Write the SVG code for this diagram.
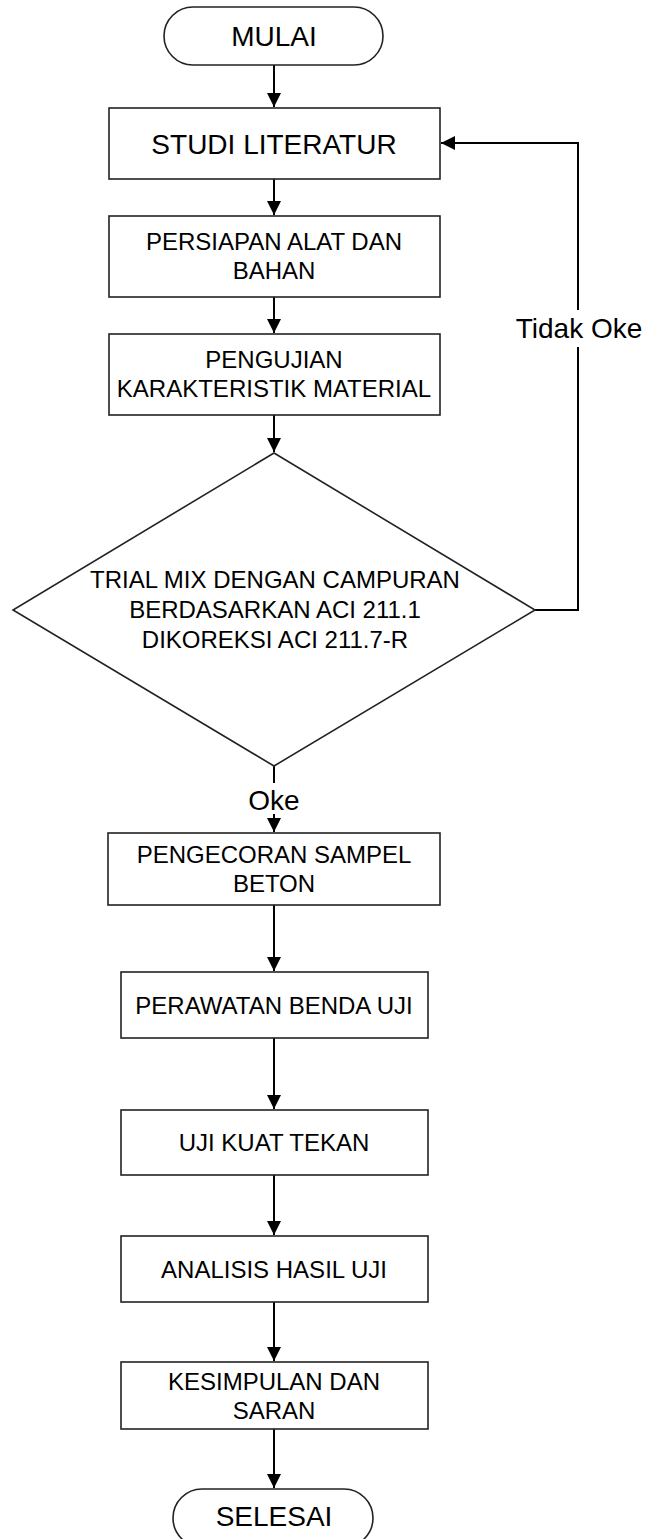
<svg xmlns="http://www.w3.org/2000/svg" width="647" height="1539" viewBox="0 0 647 1539">
<style>
.shape{fill:#fff;stroke:#222;stroke-width:1.6}
.t{font-family:"Liberation Sans",Arial,sans-serif;fill:#000;text-anchor:middle}
.big{font-size:28px}
.mid{font-size:24px}
.lbl{font-size:28px}
.conn{fill:none;stroke:#000;stroke-width:2}
</style>
<defs>
<marker id="arrow" markerUnits="userSpaceOnUse" markerWidth="15" markerHeight="14" refX="14" refY="7" orient="auto">
<path d="M0,0 L14,7 L0,14 Z" fill="#000"/>
</marker>
</defs>
<rect width="647" height="1539" fill="#fff"/>
<g id="connectors">
<path class="conn" d="M274,65 V107" marker-end="url(#arrow)"/>
<path class="conn" d="M274,179 V215" marker-end="url(#arrow)"/>
<path class="conn" d="M274,297 V333" marker-end="url(#arrow)"/>
<path class="conn" d="M274,415 V452" marker-end="url(#arrow)"/>
<path class="conn" d="M274,766 V783"/>
<path class="conn" d="M274,814 V832" marker-end="url(#arrow)"/>
<path class="conn" d="M274,905 V971" marker-end="url(#arrow)"/>
<path class="conn" d="M274,1038 V1109" marker-end="url(#arrow)"/>
<path class="conn" d="M274,1175 V1235" marker-end="url(#arrow)"/>
<path class="conn" d="M274,1302 V1361" marker-end="url(#arrow)"/>
<path class="conn" d="M274,1429 V1488" marker-end="url(#arrow)"/>
<path class="conn" d="M535,610 H578 V347"/>
<path class="conn" d="M578,310 V143 H441" marker-end="url(#arrow)"/>
<text class="t lbl" x="579" y="338">Tidak Oke</text>
<text class="t lbl" x="274" y="810">Oke</text>
</g>
<g id="mulai">
<rect class="shape" x="164" y="7" width="219" height="58" rx="29" ry="29"/>
<text class="t big" x="274" y="46">MULAI</text>
</g>
<g id="studi-literatur">
<rect class="shape" x="109" y="108" width="331" height="71"/>
<text class="t big" x="274" y="154">STUDI LITERATUR</text>
</g>
<g id="persiapan">
<rect class="shape" x="109" y="216" width="331" height="81"/>
<text class="t mid" x="274" y="250">PERSIAPAN ALAT DAN</text>
<text class="t mid" x="274" y="279">BAHAN</text>
</g>
<g id="pengujian">
<rect class="shape" x="109" y="334" width="331" height="81"/>
<text class="t mid" x="274" y="368">PENGUJIAN</text>
<text class="t mid" x="274" y="397">KARAKTERISTIK MATERIAL</text>
</g>
<g id="trial-mix">
<polygon class="shape" points="274,453 535,610 274,766 13,610"/>
<text class="t mid" x="275" y="588">TRIAL MIX DENGAN CAMPURAN</text>
<text class="t mid" x="275" y="618">BERDASARKAN ACI 211.1</text>
<text class="t mid" x="275" y="648">DIKOREKSI ACI 211.7-R</text>
</g>
<g id="pengecoran">
<rect class="shape" x="108" y="833" width="332" height="72"/>
<text class="t mid" x="274" y="863">PENGECORAN SAMPEL</text>
<text class="t mid" x="274" y="892">BETON</text>
</g>
<g id="perawatan">
<rect class="shape" x="121" y="972" width="307" height="66"/>
<text class="t mid" x="274" y="1014">PERAWATAN BENDA UJI</text>
</g>
<g id="uji-kuat-tekan">
<rect class="shape" x="121" y="1110" width="307" height="65"/>
<text class="t mid" x="274" y="1151">UJI KUAT TEKAN</text>
</g>
<g id="analisis">
<rect class="shape" x="121" y="1236" width="307" height="66"/>
<text class="t mid" x="274" y="1278">ANALISIS HASIL UJI</text>
</g>
<g id="kesimpulan">
<rect class="shape" x="121" y="1362" width="307" height="67"/>
<text class="t mid" x="274" y="1390">KESIMPULAN DAN</text>
<text class="t mid" x="274" y="1419">SARAN</text>
</g>
<g id="selesai">
<rect class="shape" x="173" y="1489" width="200" height="58" rx="29" ry="29"/>
<text class="t big" x="274" y="1526">SELESAI</text>
</g>
</svg>
